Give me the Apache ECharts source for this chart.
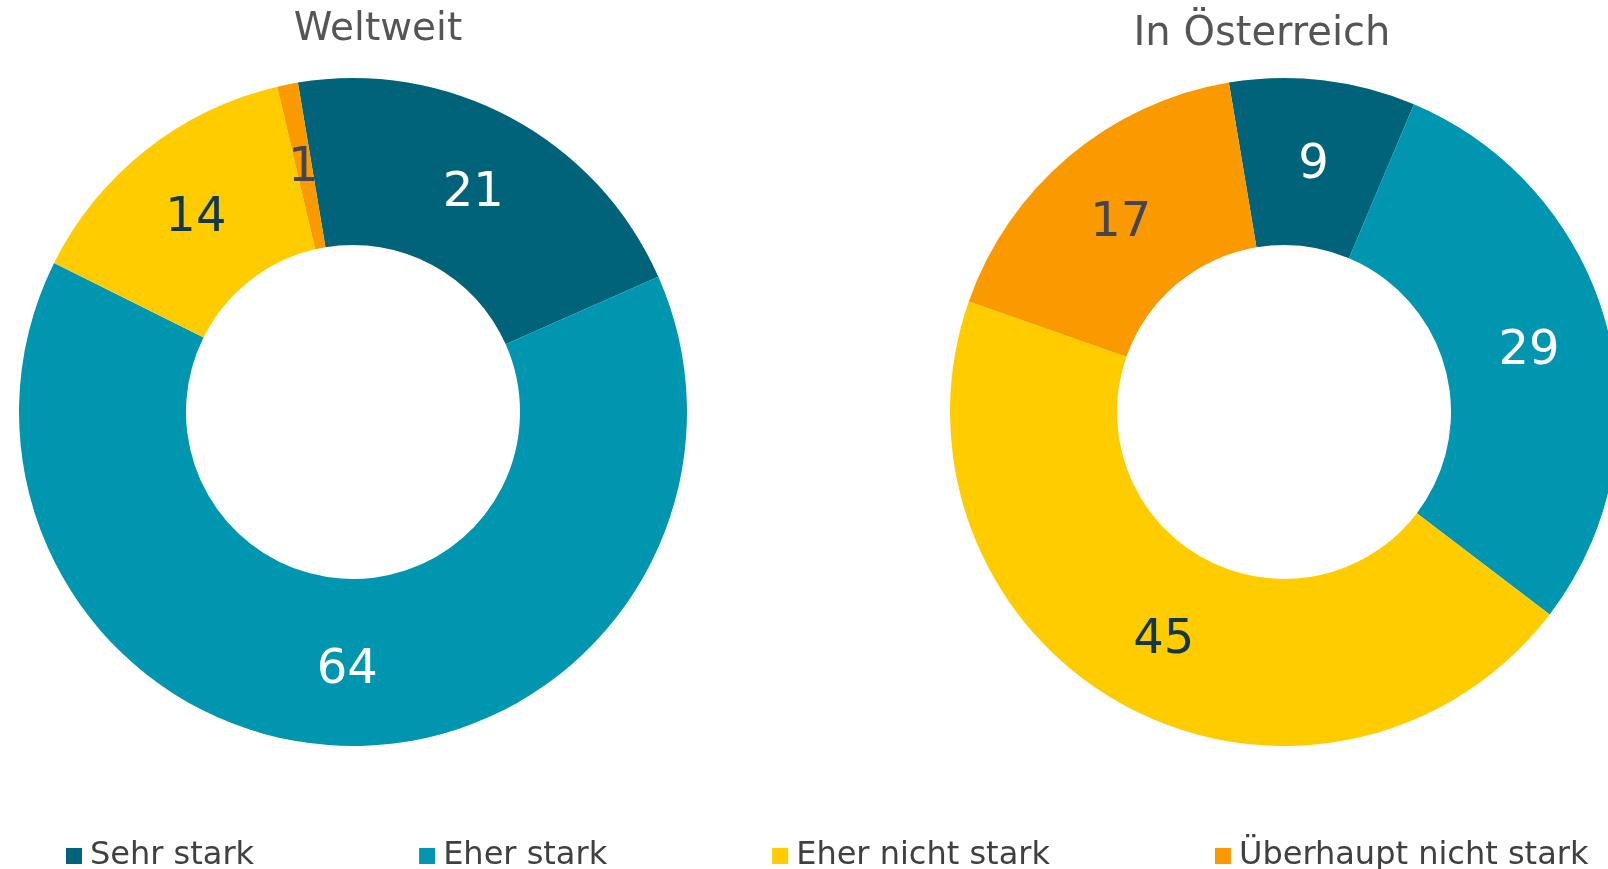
<!DOCTYPE html>
<html>
<head>
<meta charset="utf-8">
<script src="https://cdn.jsdelivr.net/npm/echarts@6/dist/echarts.min.js"></script>
<style>
  html, body { margin: 0; padding: 0; background: #fff; }
  #chart { width: 1608px; height: 869px; }
</style>
</head>
<body>
<div id="chart"></div>
<script>
var categories = ['Sehr stark', 'Eher stark', 'Eher nicht stark', 'Überhaupt nicht stark']
var worldValues = [21, 64, 14, 1]
var austriaValues = [9, 29, 45, 17]
var titles = ['Weltweit', 'In Österreich']

var colors = ['#00637a', '#0096b0', '#ffcc00', '#fb9a00']
var labelColors = ['#ffffff', '#ffffff', '#123848', '#45454f']

var font = 'DejaVu Sans'

function buildData(values) {
  return values.map(function (v, i) {
    return {
      name: categories[i],
      value: v,
      itemStyle: { color: colors[i] },
      label: { color: labelColors[i] }
    }
  })
}

function pieSeries(values, cx) {
  return {
    type: 'pie',
    center: [cx, 412],
    radius: [167, 334],
    startAngle: 99.5,
    clockwise: true,
    silent: true,
    avoidLabelOverlap: false,
    label: {
      show: true,
      position: 'inside',
      fontFamily: font,
      fontSize: 48,
      formatter: '{v|{c}}',
      rich: {
        v: { fontFamily: font, fontSize: 48, padding: [10, 0, 0, 0] }
      }
    },
    labelLine: { show: false },
    itemStyle: { borderWidth: 0 },
    emphasis: { disabled: true },
    data: buildData(values)
  }
}

var chart = echarts.init(document.getElementById('chart'))
chart.setOption({
  backgroundColor: '#ffffff',
  animation: false,
  title: [
    {
      text: titles[0], left: 373, top: 5, textAlign: 'center',
      textStyle: { fontFamily: font, fontSize: 39, fontWeight: 'normal', color: '#555555' }
    },
    {
      text: titles[1], left: 1257, top: 10, textAlign: 'center',
      textStyle: { fontFamily: font, fontSize: 40, fontWeight: 'normal', color: '#555555' }
    }
  ],
  legend: {
    data: categories,
    left: 61,
    top: 835,
    itemWidth: 16,
    itemHeight: 16,
    itemGap: 165,
    icon: 'rect',
    textStyle: { fontFamily: font, fontSize: 32, color: '#404040', padding: [0, 0, 0, 3] }
  },
  series: [
    pieSeries(worldValues, 353),
    pieSeries(austriaValues, 1284)
  ]
})
</script>
</body>
</html>
